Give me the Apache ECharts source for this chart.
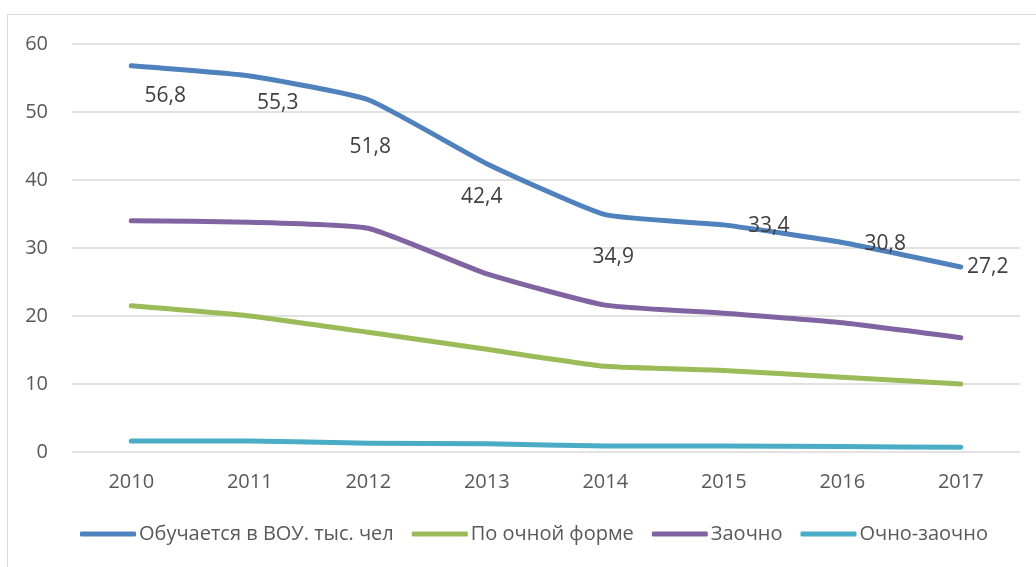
<!DOCTYPE html>
<html>
<head>
<meta charset="utf-8">
<script src="https://cdn.jsdelivr.net/npm/echarts@6/dist/echarts.min.js"></script>
<style>
  html, body { margin: 0; padding: 0; background: #fff; }
  #chart { width: 1036px; height: 567px; }
</style>
</head>
<body>
<div id="chart"></div>
<script>
  const years = ['2010', '2011', '2012', '2013', '2014', '2015', '2016', '2017'];
  const seriesNames = ['Обучается в ВОУ. тыс. чел', 'По очной форме', 'Заочно', 'Очно-заочно'];
  const totalStudents = [56.8, 55.3, 51.8, 42.4, 34.9, 33.4, 30.8, 27.2];
  const fullTime = [21.5, 20.0, 17.6, 15.1, 12.6, 12.0, 11.0, 10.0];
  const extramural = [34.0, 33.8, 32.9, 26.2, 21.6, 20.4, 19.0, 16.8];
  const partTime = [1.6, 1.6, 1.3, 1.2, 0.9, 0.9, 0.8, 0.7];

  // label offsets (px) for the first series, as Excel placed them
  const labelOffsets = [[34, 30], [28, 27], [2, 47], [-5, 33], [8, 42], [45, 1], [43, 1], [27, 0]];

  const colors = ['#4F81BD', '#9BBB59', '#8064A2', '#4BACC6'];
  const font = 'Open Sans';

  let chart = echarts.init(document.getElementById('chart'));

  function lineSeries(name, data, color) {
    return {
      name: name,
      type: 'line',
      data: data,
      symbol: 'circle',
      symbolSize: 2,
      smooth: 0.15,
      lineStyle: { width: 5, color: color, cap: 'round', join: 'round' },
      itemStyle: { color: color },
      z: 3
    };
  }

  let first = lineSeries(seriesNames[0], totalStudents.map((v, i) => ({
    value: v,
    label: { offset: labelOffsets[i] }
  })), colors[0]);
  first.label = {
    show: true,
    position: 'inside',
    fontFamily: font,
    fontSize: 21,
    color: '#404040',
    formatter: p => String(p.value).replace('.', ',')
  };

  chart.setOption({
    animation: false,
    graphic: [{
      type: 'rect',
      shape: { x: 7.5, y: 14.5, width: 1040, height: 560 },
      style: { fill: 'none', stroke: '#d9d9d9', lineWidth: 1 },
      silent: true
    }],
    grid: { left: 72, right: 16, top: 44, bottom: 115 },
    legend: {
      bottom: 18,
      left: 75,
      itemWidth: 56,
      itemHeight: 5,
      itemGap: 18,
      icon: 'roundRect',
      textStyle: { fontFamily: font, fontSize: 20, color: '#595959', padding: [0, 0, 0, -2] },
      data: [seriesNames[0], seriesNames[1], seriesNames[2], seriesNames[3]]
    },
    xAxis: {
      type: 'category',
      data: years,
      boundaryGap: true,
      axisLine: { show: false },
      axisTick: { show: false },
      axisLabel: { fontFamily: font, fontSize: 20, color: '#595959', margin: 20 }
    },
    yAxis: {
      type: 'value',
      min: 0,
      max: 60,
      interval: 10,
      axisLine: { show: false },
      axisTick: { show: false },
      splitLine: { lineStyle: { color: '#d9d9d9', width: 1.5 } },
      axisLabel: { fontFamily: font, fontSize: 20, color: '#595959', margin: 24 }
    },
    series: [
      first,
      lineSeries(seriesNames[1], fullTime, colors[1]),
      lineSeries(seriesNames[2], extramural, colors[2]),
      lineSeries(seriesNames[3], partTime, colors[3])
    ]
  });
</script>
</body>
</html>
